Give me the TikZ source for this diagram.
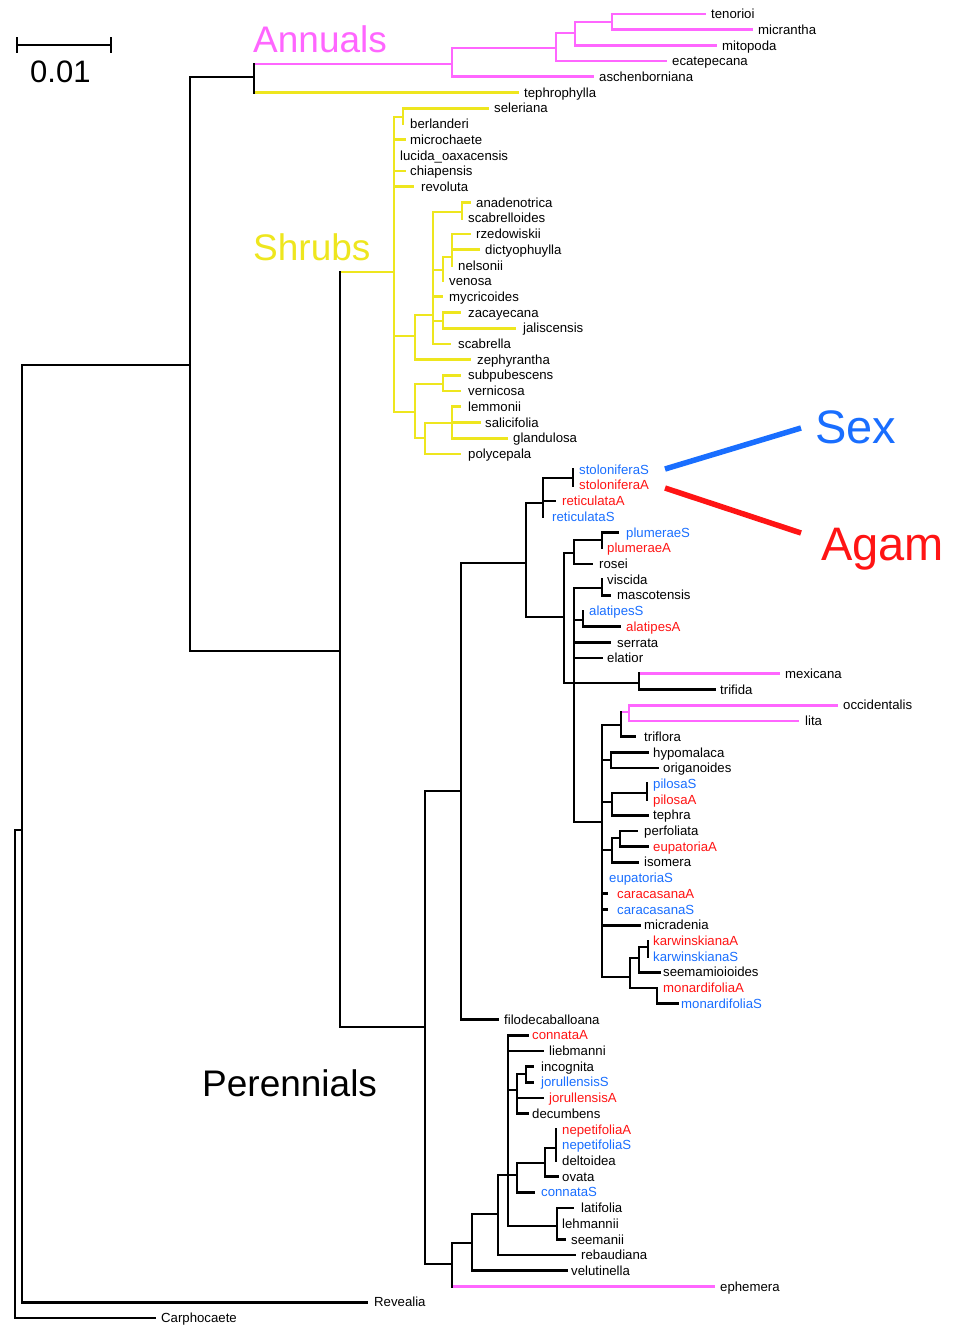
\documentclass[tikz,border=0pt]{standalone}
\usepackage{fontspec}
\setmainfont{Liberation Sans}
\definecolor{pk}{RGB}{255,102,255}
\definecolor{yl}{RGB}{238,230,30}
\definecolor{bl}{RGB}{25,110,255}
\definecolor{rd}{RGB}{255,20,20}
\tikzset{
  br/.style={line width=2.7pt, line cap=rect},
  lab/.style={anchor=base west, inner sep=0pt, font=\fontsize{13.2}{15}\selectfont, yshift=-4.6pt},
  big/.style={anchor=base west, inner sep=0pt},
  thick sex/.style={line width=5.5pt}
}
\newcommand\lf[6][black]{\coordinate (t-#2) at (#3,#4); \node[lab,text=#1] (#2) at (#5,#4) {#6};}
\newcommand\ed[3][black]{\draw[br,#1] (#2 |- #3) -- (#3);}
\newcommand\vb[4][black]{\draw[br,#1] (#2 |- #3) -- (#2 |- #4);}
\begin{document}
\begin{tikzpicture}[x=1pt,y=-1pt]
\useasboundingbox (0,0) rectangle (961,1326);
% ---------- leaves ----------
\lf{tenorioi}{705}{14.0}{711}{tenorioi}
\lf{micrantha}{752}{29.7}{758}{micrantha}
\lf{mitopoda}{716}{45.4}{722}{mitopoda}
\lf{ecatepecana}{666}{61.1}{672}{ecatepecana}
\lf{aschenborniana}{593}{76.8}{599}{aschenborniana}
\lf{tephrophylla}{518}{92.6}{524}{tephrophylla}
\lf{seleriana}{488}{108.3}{494}{seleriana}
\lf{berlanderi}{403}{124.0}{410}{berlanderi}
\lf{microchaete}{405}{139.7}{410}{microchaete}
\lf{lucida}{394}{155.4}{400}{lucida\_oaxacensis}
\lf{chiapensis}{405}{171.1}{410}{chiapensis}
\lf{revoluta}{413}{186.8}{421}{revoluta}
\lf{anadenotrica}{470}{202.5}{476}{anadenotrica}
\lf{scabrelloides}{462}{218.2}{468}{scabrelloides}
\lf{rzedowiskii}{470}{233.9}{476}{rzedowiskii}
\lf{dictyophuylla}{479}{249.7}{485}{dictyophuylla}
\lf{nelsonii}{452}{265.4}{458}{nelsonii}
\lf{venosa}{443}{281.1}{449}{venosa}
\lf{mycricoides}{442}{296.8}{449}{mycricoides}
\lf{zacayecana}{460}{312.5}{468}{zacayecana}
\lf{jaliscensis}{515}{328.2}{523}{jaliscensis}
\lf{scabrella}{450}{343.9}{458}{scabrella}
\lf{zephyrantha}{470}{359.6}{477}{zephyrantha}
\lf{subpubescens}{460}{375.3}{468}{subpubescens}
\lf{vernicosa}{460}{391.0}{468}{vernicosa}
\lf{lemmonii}{460}{406.8}{468}{lemmonii}
\lf{salicifolia}{480}{422.5}{485}{salicifolia}
\lf{glandulosa}{507}{438.2}{513}{glandulosa}
\lf{polycepala}{460}{453.9}{468}{polycepala}
\lf[bl]{stolS}{573}{469.6}{579}{stoloniferaS}
\lf[rd]{stolA}{573}{485.3}{579}{stoloniferaA}
\lf[rd]{retA}{555}{501.0}{562}{reticulataA}
\lf[bl]{retS}{543}{516.7}{552}{reticulataS}
\lf[bl]{plumS}{618}{532.4}{626}{plumeraeS}
\lf[rd]{plumA}{602}{548.1}{607}{plumeraeA}
\lf{rosei}{592}{563.9}{599}{rosei}
\lf{viscida}{602}{579.6}{607}{viscida}
\lf{mascotensis}{610}{595.3}{617}{mascotensis}
\lf[bl]{alaS}{583}{611.0}{589}{alatipesS}
\lf[rd]{alaA}{620}{626.7}{626}{alatipesA}
\lf{serrata}{610}{642.4}{617}{serrata}
\lf{elatior}{602}{658.1}{607}{elatior}
\lf{mexicana}{779}{673.8}{785}{mexicana}
\lf{trifida}{715}{689.5}{720}{trifida}
\lf{occidentalis}{837}{705.2}{843}{occidentalis}
\lf{lita}{798}{721.0}{805}{lita}
\lf{triflora}{635}{736.7}{644}{triflora}
\lf{hypomalaca}{648}{752.4}{653}{hypomalaca}
\lf{origanoides}{658}{768.1}{663}{origanoides}
\lf[bl]{pilS}{647}{783.8}{653}{pilosaS}
\lf[rd]{pilA}{647}{799.5}{653}{pilosaA}
\lf{tephra}{648}{815.2}{653}{tephra}
\lf{perfoliata}{637}{830.9}{644}{perfoliata}
\lf[rd]{eupA}{648}{846.6}{653}{eupatoriaA}
\lf{isomera}{638}{862.3}{644}{isomera}
\lf[bl]{eupS}{602}{878.1}{609}{eupatoriaS}
\lf[rd]{caraA}{607}{893.8}{617}{caracasanaA}
\lf[bl]{caraS}{607}{909.5}{617}{caracasanaS}
\lf{micradenia}{640}{925.2}{644}{micradenia}
\lf[rd]{karA}{648}{940.9}{653}{karwinskianaA}
\lf[bl]{karS}{648}{956.6}{653}{karwinskianaS}
\lf{seemamioioides}{660}{972.3}{663}{seemamioioides}
\lf[rd]{monA}{657}{988.0}{663}{monardifoliaA}
\lf[bl]{monS}{678}{1003.7}{681}{monardifoliaS}
\lf{filo}{498}{1019.4}{504}{filodecaballoana}
\lf[rd]{conA}{528}{1035.2}{532}{connataA}
\lf{liebmanni}{543}{1050.9}{549}{liebmanni}
\lf{incognita}{533}{1066.6}{541}{incognita}
\lf[bl]{jorS}{533}{1082.3}{541}{jorullensisS}
\lf[rd]{jorA}{543}{1098.0}{549}{jorullensisA}
\lf{decumbens}{528}{1113.7}{532}{decumbens}
\lf[rd]{nepA}{556}{1129.4}{562}{nepetifoliaA}
\lf[bl]{nepS}{556}{1145.1}{562}{nepetifoliaS}
\lf{deltoidea}{556}{1160.8}{562}{deltoidea}
\lf{ovata}{558}{1176.5}{562}{ovata}
\lf[bl]{conS}{534}{1192.3}{541}{connataS}
\lf{latifolia}{573}{1208.0}{581}{latifolia}
\lf{lehmannii}{557}{1223.7}{562}{lehmannii}
\lf{seemanii}{565}{1239.4}{571}{seemanii}
\lf{rebaudiana}{575}{1255.1}{581}{rebaudiana}
\lf{velutinella}{567}{1270.8}{571}{velutinella}
\lf{ephemera}{714}{1286.5}{720}{ephemera}
\lf{Revealia}{367}{1302.2}{374}{Revealia}
\lf{Carphocaete}{155}{1317.9}{161}{Carphocaete}
% ---------- internal nodes ----------
\coordinate (R0) at (15,830);
\coordinate (A1) at (22,830);
\coordinate (A2) at (190,365);
\coordinate (AN0) at (254,77);
\coordinate (AN1) at (452,64);
\coordinate (AN2) at (556,48);
\coordinate (AN3) at (575,33);
\coordinate (AN4) at (612,22);
\coordinate (A3) at (340,651);
\coordinate (SH0) at (394,272);
\coordinate (SH1) at (403,117);
\coordinate (SH2) at (415,336);
\coordinate (SH3) at (433,315);
\coordinate (SH4) at (462,212);
\coordinate (SH5) at (443,270);
\coordinate (SH6) at (452,257);
\coordinate (SH7) at (443,321);
\coordinate (SH8) at (415,412);
\coordinate (SH9) at (443,384);
\coordinate (SH10) at (425,438);
\coordinate (SH11) at (452,423);
\coordinate (A4) at (425,1027);
\coordinate (P1) at (461,791);
\coordinate (P2) at (526,563);
\coordinate (P3) at (543,503);
\coordinate (P4) at (573,478);
\coordinate (P5) at (564,617);
\coordinate (P6) at (574,553);
\coordinate (P7) at (602,540);
\coordinate (P8) at (574,683);
\coordinate (P9) at (602,588);
\coordinate (P10) at (583,620);
\coordinate (P11) at (639,683);
\coordinate (P12) at (602,822);
\coordinate (P13) at (621,725);
\coordinate (P14) at (629,712);
\coordinate (P15) at (611,760);
\coordinate (P16) at (612,802);
\coordinate (P17) at (647,793);
\coordinate (P18) at (612,850);
\coordinate (P19) at (620,838);
\coordinate (P20) at (630,977);
\coordinate (P21) at (639,958);
\coordinate (P22) at (648,947);
\coordinate (P23) at (657,988);
\coordinate (P24) at (452,1264);
\coordinate (P25) at (472,1243);
\coordinate (P26) at (498,1214);
\coordinate (P27) at (508,1175);
\coordinate (P28) at (517,1090);
\coordinate (P29) at (526,1074);
\coordinate (P30) at (517,1175);
\coordinate (P31) at (545,1163);
\coordinate (P32) at (556,1148);
\coordinate (P33) at (557,1226);
% ---------- horizontal branches ----------
\ed{R0}{A1} \ed{R0}{t-Carphocaete}
\ed{A1}{A2} \ed{A1}{t-Revealia}
\ed{A2}{AN0} \ed{A2}{A3}
\ed[pk]{AN0}{AN1} \ed[yl]{AN0}{t-tephrophylla}
\ed[pk]{AN1}{AN2} \ed[pk]{AN1}{t-aschenborniana}
\ed[pk]{AN2}{AN3} \ed[pk]{AN2}{t-ecatepecana}
\ed[pk]{AN3}{AN4} \ed[pk]{AN3}{t-mitopoda}
\ed[pk]{AN4}{t-tenorioi} \ed[pk]{AN4}{t-micrantha}
\ed[yl]{A3}{SH0} \ed{A3}{A4}
\ed[yl]{SH0}{SH1} \ed[yl]{SH0}{t-microchaete} \ed[yl]{SH0}{t-chiapensis}
\ed[yl]{SH0}{t-revoluta} \ed[yl]{SH0}{SH2} \ed[yl]{SH0}{SH8}
\ed[yl]{SH1}{t-seleriana}
\ed[yl]{SH2}{SH3} \ed[yl]{SH2}{t-zephyrantha}
\ed[yl]{SH3}{SH4} \ed[yl]{SH3}{SH5} \ed[yl]{SH3}{t-mycricoides}
\ed[yl]{SH3}{SH7} \ed[yl]{SH3}{t-scabrella}
\ed[yl]{SH4}{t-anadenotrica}
\ed[yl]{SH5}{SH6}
\ed[yl]{SH6}{t-rzedowiskii} \ed[yl]{SH6}{t-dictyophuylla}
\ed[yl]{SH7}{t-zacayecana} \ed[yl]{SH7}{t-jaliscensis}
\ed[yl]{SH8}{SH9} \ed[yl]{SH8}{SH10}
\ed[yl]{SH9}{t-subpubescens} \ed[yl]{SH9}{t-vernicosa}
\ed[yl]{SH10}{SH11} \ed[yl]{SH10}{t-polycepala}
\ed[yl]{SH11}{t-lemmonii} \ed[yl]{SH11}{t-salicifolia} \ed[yl]{SH11}{t-glandulosa}
\ed{A4}{P1} \ed{A4}{P24}
\ed{P1}{P2} \ed{P1}{t-filo}
\ed{P2}{P3} \ed{P2}{P5}
\ed{P3}{P4} \ed{P3}{t-retA}
\ed{P5}{P6} \ed{P5}{P8}
\ed{P6}{P7} \ed{P6}{t-rosei}
\ed{P7}{t-plumS}
\ed{P8}{P9} \ed{P8}{P10} \ed{P8}{t-serrata} \ed{P8}{t-elatior} \ed{P8}{P11} \ed{P8}{P12}
\ed{P9}{t-mascotensis}
\ed{P10}{t-alaA}
\ed[pk]{P11}{t-mexicana} \ed{P11}{t-trifida}
\ed{P12}{P13} \ed{P12}{P15} \ed{P12}{P16} \ed{P12}{P18}
\ed{P12}{t-caraA} \ed{P12}{t-caraS} \ed{P12}{t-micradenia} \ed{P12}{P20}
\ed[pk]{P13}{P14} \ed{P13}{t-triflora}
\ed[pk]{P14}{t-occidentalis} \ed[pk]{P14}{t-lita}
\ed{P15}{t-hypomalaca} \ed{P15}{t-origanoides}
\ed{P16}{P17} \ed{P16}{t-tephra}
\ed{P18}{P19} \ed{P18}{t-isomera}
\ed{P19}{t-perfoliata} \ed{P19}{t-eupA}
\ed{P20}{P21} \ed{P20}{P23}
\ed{P21}{P22} \ed{P21}{t-seemamioioides}
\ed{P23}{t-monS}
\ed{P24}{P25} \ed[pk]{P24}{t-ephemera}
\ed{P25}{P26} \ed{P25}{t-velutinella}
\ed{P26}{P27} \ed{P26}{t-rebaudiana}
\ed{P27}{t-conA} \ed{P27}{t-liebmanni} \ed{P27}{P28} \ed{P27}{P30} \ed{P27}{P33}
\ed{P28}{P29} \ed{P28}{t-jorA} \ed{P28}{t-decumbens}
\ed{P29}{t-incognita} \ed{P29}{t-jorS}
\ed{P30}{P31} \ed{P30}{t-conS}
\ed{P31}{P32} \ed{P31}{t-ovata}
\ed{P33}{t-latifolia} \ed{P33}{t-seemanii}
% ---------- vertical bars ----------
\vb[pk]{AN1}{AN2}{t-aschenborniana}
\vb[pk]{AN2}{AN3}{t-ecatepecana}
\vb[pk]{AN3}{AN4}{t-mitopoda}
\vb[pk]{AN4}{t-tenorioi}{t-micrantha}
\vb[yl]{SH0}{SH1}{SH8}
\vb[yl]{SH1}{t-seleriana}{t-berlanderi}
\vb[yl]{SH2}{SH3}{t-zephyrantha}
\vb[yl]{SH3}{SH4}{t-scabrella}
\vb[yl]{SH4}{t-anadenotrica}{t-scabrelloides}
\vb[yl]{SH5}{SH6}{t-venosa}
\vb[yl]{SH6}{t-rzedowiskii}{t-nelsonii}
\vb[yl]{SH7}{t-zacayecana}{t-jaliscensis}
\vb[yl]{SH8}{SH9}{SH10}
\vb[yl]{SH9}{t-subpubescens}{t-vernicosa}
\vb[yl]{SH10}{SH11}{t-polycepala}
\vb[yl]{SH11}{t-lemmonii}{t-glandulosa}
\vb[pk]{P14}{t-occidentalis}{t-lita}
\vb{R0}{A1}{t-Carphocaete}
\vb{A1}{A2}{t-Revealia}
\vb{A2}{AN0}{A3}
\vb{AN0}{AN1}{t-tephrophylla}
\vb{A3}{SH0}{A4}
\vb{A4}{P1}{P24}
\vb{P1}{P2}{t-filo}
\vb{P2}{P3}{P5}
\vb{P3}{P4}{t-retS}
\vb{P4}{t-stolS}{t-stolA}
\vb{P5}{P6}{P8}
\vb{P6}{P7}{t-rosei}
\vb{P7}{t-plumS}{t-plumA}
\vb{P8}{P9}{P12}
\vb{P9}{t-viscida}{t-mascotensis}
\vb{P10}{t-alaS}{t-alaA}
\vb{P11}{t-mexicana}{t-trifida}
\vb{P12}{P13}{P20}
\vb{P13}{P14}{t-triflora}
\vb{P15}{t-hypomalaca}{t-origanoides}
\vb{P16}{P17}{t-tephra}
\vb{P17}{t-pilS}{t-pilA}
\vb{P18}{P19}{t-isomera}
\vb{P19}{t-perfoliata}{t-eupA}
\vb{P20}{P21}{P23}
\vb{P21}{P22}{t-seemamioioides}
\vb{P22}{t-karA}{t-karS}
\vb{P23}{t-monA}{t-monS}
\vb{P24}{P25}{t-ephemera}
\vb{P25}{P26}{t-velutinella}
\vb{P26}{P27}{t-rebaudiana}
\vb{P27}{t-conA}{P33}
\vb{P28}{P29}{t-decumbens}
\vb{P29}{t-incognita}{t-jorS}
\vb{P30}{P31}{t-conS}
\vb{P31}{P32}{t-ovata}
\vb{P32}{t-nepA}{t-deltoidea}
\vb{P33}{t-latifolia}{t-seemanii}
% ---------- group titles ----------
\node[big,text=pk,font=\fontsize{37}{40}\selectfont] (annuals) at (253,52) {Annuals};
\node[big,text=yl,font=\fontsize{37}{40}\selectfont] (shrubs) at (253,260) {Shrubs};
\node[big,font=\fontsize{37}{40}\selectfont] (perennials) at (202,1096) {Perennials};
\node[big,text=bl,font=\fontsize{47}{50}\selectfont] (sex) at (815,443) {Sex};
\node[big,text=rd,font=\fontsize{47}{50}\selectfont] (agam) at (821,560) {Agam};
\coordinate (sx1) at (665,469);
\coordinate (sx2) at (801,428);
\coordinate (ag1) at (665,488);
\coordinate (ag2) at (801,533);
\draw[thick sex,bl] (sx1) -- (sx2);
\draw[thick sex,rd] (ag1) -- (ag2);
% ---------- scale bar ----------
\coordinate (sb1) at (17,45);
\coordinate (sb2) at (111,45);
\draw[br,line cap=butt] (sb1) -- (sb2);
\draw[br,line cap=butt] ([yshift=8pt]sb1) -- ([yshift=-8pt]sb1);
\draw[br,line cap=butt] ([yshift=8pt]sb2) -- ([yshift=-8pt]sb2);
\node[big,font=\fontsize{31}{33}\selectfont] (scale) at (30,82) {0.01};
\end{tikzpicture}
\end{document}
